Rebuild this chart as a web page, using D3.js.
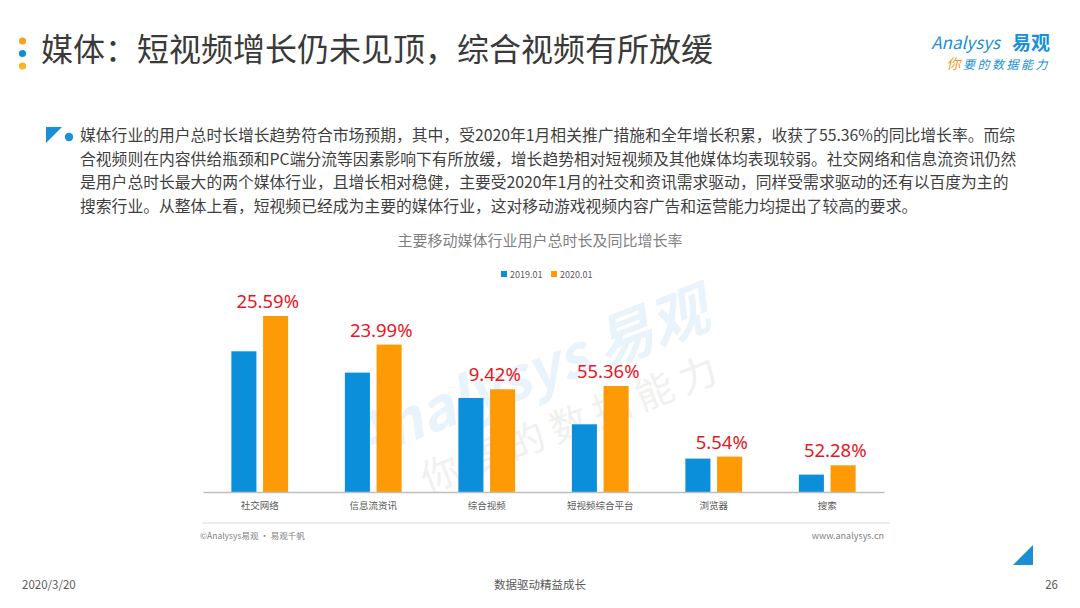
<!DOCTYPE html>
<html>
<head>
<meta charset="utf-8">
<script src="https://cdn.jsdelivr.net/npm/d3@7"></script>
<style>
  body { margin: 0; background: #fff; }
  svg { display: block; font-family: "Noto Sans CJK SC", "Noto Sans", sans-serif; }
</style>
</head>
<body>
<svg width="1080" height="608"></svg>
<script>
// chart data
const categories = ['社交网络', '信息流资讯', '综合视频', '短视频综合平台', '浏览器', '搜索']
const series = ['2019.01', '2020.01']
const values2019 = [140.7, 119.4, 94.0, 67.7, 33.4, 17.4]
const values2020 = [176.0, 147.4, 102.7, 106.0, 35.4, 26.7]
const growthLabels = ['25.59%', '23.99%', '9.42%', '55.36%', '5.54%', '52.28%']

const titleText = '媒体：短视频增长仍未见顶，综合视频有所放缓'
const chartTitle = '主要移动媒体行业用户总时长及同比增长率'
const paragraph = [
  '媒体行业的用户总时长增长趋势符合市场预期，其中，受2020年1月相关推广措施和全年增长积累，收获了55.36%的同比增长率。而综',
  '合视频则在内容供给瓶颈和PC端分流等因素影响下有所放缓，增长趋势相对短视频及其他媒体均表现较弱。社交网络和信息流资讯仍然',
  '是用户总时长最大的两个媒体行业，且增长相对稳健，主要受2020年1月的社交和资讯需求驱动，同样受需求驱动的还有以百度为主的',
  '搜索行业。从整体上看，短视频已经成为主要的媒体行业，这对移动游戏视频内容广告和运营能力均提出了较高的要求。'
]

const colors = {'2019.01': '#0b8fdb', '2020.01': '#fd9a05'}
const svg = d3.select('svg')

// watermark behind everything
const wm = svg.append('g')
  .attr('transform', 'translate(540, 405) rotate(-21)')
wm.append('text')
  .attr('x', 0).attr('y', -12)
  .attr('text-anchor', 'middle')
  .attr('font-size', '58px')
  .attr('font-weight', 700)
  .attr('font-style', 'italic')
  .attr('fill', '#e8f3fb')
  .text('Analysys 易观')
wm.append('text')
  .attr('x', 24).attr('y', 42)
  .attr('text-anchor', 'middle')
  .attr('font-size', '38px')
  .attr('letter-spacing', '8px')
  .attr('fill', '#f0f1ef')
  .text('你要的数据能力')

// header
const dotColors = ['#f9a11b', '#0b8fdb', '#f9b41b']
svg.append('g')
  .selectAll('circle')
  .data(dotColors)
  .join('circle')
    .attr('cx', 22.5)
    .attr('cy', (d, i) => 41 + i * 12.5)
    .attr('r', 3.6)
    .attr('fill', d => d)

svg.append('text')
  .attr('x', 41)
  .attr('y', 61)
  .attr('font-size', '32px')
  .attr('fill', '#3a3a3a')
  .text(titleText)

// logo
const logo = svg.append('g')
logo.append('text')
  .attr('x', 1000).attr('y', 49)
  .attr('text-anchor', 'end')
  .attr('font-size', '17px')
  .attr('font-style', 'italic')
  .attr('fill', '#1b8fd6')
  .text('Analysys')
logo.append('text')
  .attr('x', 1050).attr('y', 50)
  .attr('text-anchor', 'end')
  .attr('font-size', '19px')
  .attr('font-weight', 700)
  .attr('fill', '#1b8fd6')
  .text('易观')
const slogan = logo.append('text')
  .attr('x', 1050).attr('y', 69)
  .attr('text-anchor', 'end')
  .attr('font-size', '12px')
  .attr('font-style', 'italic')
  .attr('letter-spacing', '2.5px')
slogan.append('tspan').attr('fill', '#f39a1e').attr('font-size', '14px').text('你')
slogan.append('tspan').attr('fill', '#1b8fd6').text('要的数据能力')

// paragraph with bullet
svg.append('path')
  .attr('d', 'M46,127 L62,127 L46,143 Z')
  .attr('fill', '#1b8fd6')
svg.append('circle')
  .attr('cx', 69).attr('cy', 137).attr('r', 4.2)
  .attr('fill', '#1b8fd6')
svg.append('g')
  .selectAll('text')
  .data(paragraph)
  .join('text')
    .attr('x', 80)
    .attr('y', (d, i) => 141 + i * 23.7)
    .attr('font-size', '15.8px')
    .attr('fill', '#3f3f3f')
    .text(d => d)

// chart title + legend
svg.append('text')
  .attr('x', 540).attr('y', 246)
  .attr('text-anchor', 'middle')
  .attr('font-size', '15px')
  .attr('fill', '#7f7f7f')
  .text(chartTitle)

const legend = svg.append('g')
  .selectAll('g')
  .data(series)
  .join('g')
    .attr('transform', (d, i) => `translate(${501 + i * 50}, 274)`)
legend.append('rect')
  .attr('x', 0).attr('y', -3)
  .attr('width', 6).attr('height', 6)
  .attr('fill', d => colors[d])
legend.append('text')
  .attr('x', 9).attr('y', 3.5)
  .attr('font-size', '9px')
  .attr('fill', '#595959')
  .text(d => d)

// bars
const x0 = d3.scaleBand()
  .domain(categories)
  .range([203, 884])
  .paddingInner(0.5)
  .paddingOuter(0.25)
const x1 = d3.scaleBand()
  .domain(series)
  .range([0, x0.bandwidth()])
  .paddingInner(0.21)
const y = d3.scaleLinear()
  .domain([0, 200])
  .range([492, 292])

const rows = categories.map((c, i) => ({
  category: c,
  values: [
    {key: series[0], value: values2019[i]},
    {key: series[1], value: values2020[i]}
  ],
  label: growthLabels[i]
}))

const groups = svg.append('g')
  .selectAll('g')
  .data(rows)
  .join('g')
    .attr('transform', d => `translate(${x0(d.category)}, 0)`)

groups.selectAll('rect')
  .data(d => d.values)
  .join('rect')
    .attr('x', d => x1(d.key))
    .attr('y', d => y(d.value))
    .attr('width', x1.bandwidth())
    .attr('height', d => y(0) - y(d.value))
    .attr('fill', d => colors[d.key])

groups.append('text')
  .attr('x', x0.bandwidth() / 2 + 8)
  .attr('y', d => y(d.values[1].value) - 8)
  .attr('text-anchor', 'middle')
  .attr('font-family', '"Noto Sans", sans-serif')
  .attr('font-size', '18.5px')
  .attr('fill', '#e8161e')
  .text(d => d.label)

// x axis
const xAxis = svg.append('g')
  .attr('transform', `translate(0, ${y(0)})`)
  .call(d3.axisBottom(x0).tickSize(0).tickSizeOuter(0).tickPadding(10))
xAxis.select('.domain')
  .attr('stroke', '#bfbfbf')
  .attr('stroke-width', 1.3)
xAxis.selectAll('text')
  .attr('font-family', '"Noto Sans CJK SC", sans-serif')
  .attr('font-size', '9.5px')
  .attr('fill', '#595959')

// source line
svg.append('line')
  .attr('x1', 203).attr('x2', 890)
  .attr('y1', 523).attr('y2', 523)
  .attr('stroke', '#d9d9d9')
svg.append('text')
  .attr('x', 200).attr('y', 539)
  .attr('font-size', '8.5px')
  .attr('fill', '#7f7f7f')
  .text('©Analysys易观 · 易观千帆')
svg.append('text')
  .attr('x', 884).attr('y', 539)
  .attr('text-anchor', 'end')
  .attr('font-size', '9px')
  .attr('fill', '#7f7f7f')
  .text('www.analysys.cn')

svg.append('path')
  .attr('d', 'M1033,545 L1033,565 L1013,565 Z')
  .attr('fill', '#1b8fd6')

// page footer
const footer = [
  {text: '2020/3/20', x: 22, anchor: 'start'},
  {text: '数据驱动精益成长', x: 540, anchor: 'middle'},
  {text: '26', x: 1058, anchor: 'end'}
]
svg.append('g')
  .selectAll('text')
  .data(footer)
  .join('text')
    .attr('x', d => d.x)
    .attr('y', 589)
    .attr('text-anchor', d => d.anchor)
    .attr('font-size', '11.5px')
    .attr('fill', '#595959')
    .text(d => d.text)
</script>
</body>
</html>
